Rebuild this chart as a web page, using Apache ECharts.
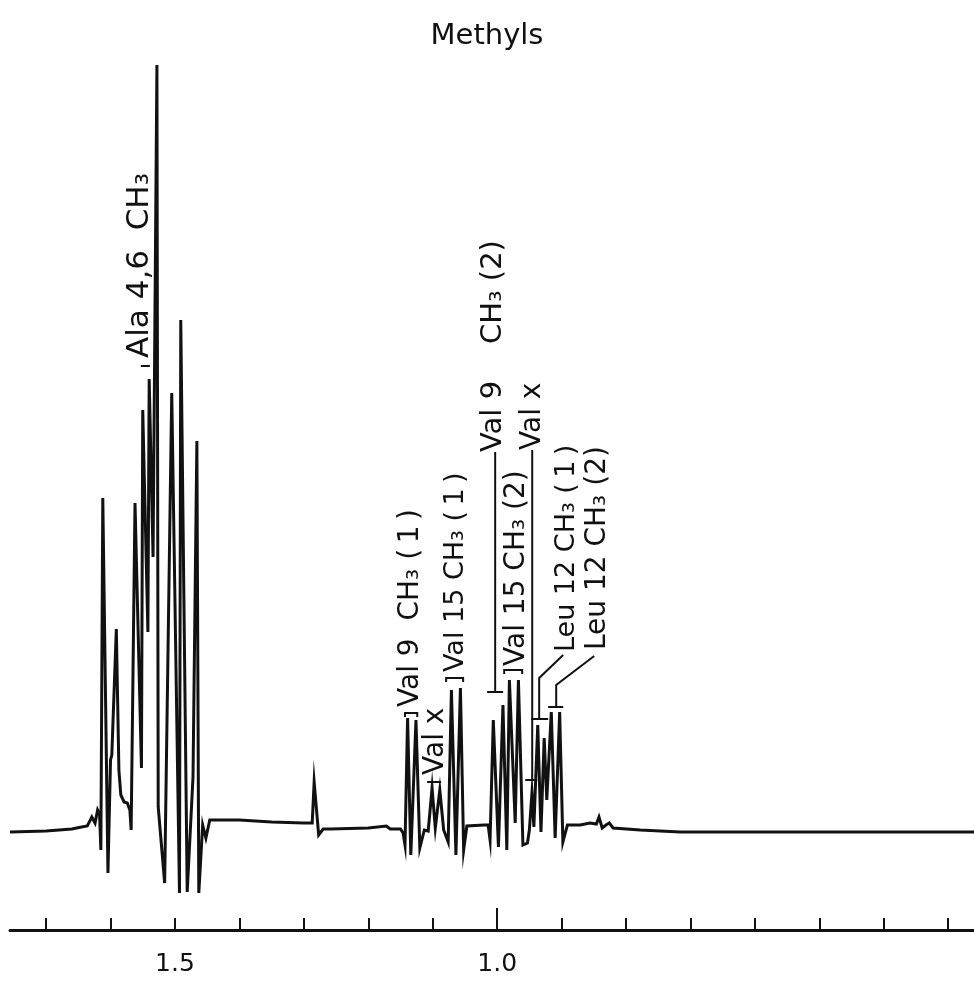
<!DOCTYPE html>
<html><head><meta charset="utf-8">
<script src="https://cdn.jsdelivr.net/npm/echarts@6/dist/echarts.min.js"></script>
<style>html,body{margin:0;padding:0;background:#fff}#c{width:974px;height:988px}</style>
</head><body><div id="c"></div>
<script>
// chemical shift (ppm) of each trace vertex
const shiftPpm = [1.756,1.700,1.660,1.645,1.636,1.629,1.624,1.620,1.617,1.615,1.612,1.604,1.600,1.598,1.591,1.587,1.584,1.579,1.574,1.570,1.568,1.562,1.552,1.550,1.542,1.540,1.534,1.528,1.526,1.516,1.505,1.493,1.491,1.481,1.472,1.466,1.463,1.457,1.452,1.446,1.400,1.350,1.300,1.287,1.284,1.277,1.270,1.259,1.200,1.172,1.166,1.150,1.146,1.143,1.139,1.134,1.126,1.120,1.113,1.107,1.101,1.096,1.089,1.083,1.076,1.071,1.064,1.057,1.052,1.047,1.020,1.014,1.011,1.006,0.998,0.991,0.985,0.981,0.972,0.967,0.960,0.953,0.950,0.946,0.943,0.937,0.932,0.927,0.923,0.916,0.910,0.903,0.898,0.891,0.871,0.856,0.846,0.842,0.837,0.831,0.826,0.820,0.778,0.716,0.530,0.260];
// signal intensity (arbitrary units) at each vertex
const intensity = [-2,-1,1,3,4,13,7,20,16,-20,332,-43,70,75,201,60,35,28,27,20,0,327,62,420,198,451,273,765,23,-53,437,-63,510,-62,53,389,-63,5,-8,10,10,8,7,7,48,-5,1,1,2,4,1,1,-3,-15,112,-25,110,-18,0,-1,42,2,40,0,-12,140,-25,142,-20,4,5,5,-10,110,-17,125,-20,150,7,150,-15,-13,0,37,3,105,-2,92,30,118,-8,118,-12,5,5,7,6,13,2,5,7,2,0,-2,-2,-2];

const tickValues = [0.3,0.4,0.5,0.6,0.7,0.8,0.9,1.0,1.1,1.2,1.3,1.4,1.5,1.6,1.7];
const tickLabelValues = [1.0, 1.5];
const majorTickValues = [1.0];

const titleText = 'Methyls';
// peak assignments: text, anchor shift, anchor intensity (start of rotated text)
const labelTexts = ['Ala 4,6  CH\u2083','Val 9  CH\u2083 (\u20091\u2009)','Val x','Val 15 CH\u2083 (\u20091\u2009)','Val 9    CH\u2083 (2)','Val 15 CH\u2083 (2)','Val x','Leu 12 CH\u2083 (\u20091\u2009)','Leu 12 CH\u2083 (2)'];
const labelPpm = [1.554,1.1335,1.0947,1.0637,1.0062,0.9689,0.9441,0.8913,0.8447];
const labelHeight = [472,123,55,158,378,164,380,178,180];
const labelSize = [31,28,28,27,29,28,28,27,28];
// brackets / leader lines in (ppm, intensity)
const leaderLines = [
  [[1.553,464],[1.539,464]],
  [[1.143,113],[1.143,117],[1.124,117],[1.124,113]],
  [[1.1087,48],[1.0870,48]],
  [[1.0792,148],[1.0792,152],[1.0528,152],[1.0528,148]],
  [[1.0155,138],[0.9907,138]],
  [[1.0031,138],[1.0031,378]],
  [[0.9891,156],[0.9891,160],[0.9612,160],[0.9612,156]],
  [[0.9565,50],[0.9379,50]],
  [[0.9456,50],[0.9456,380]],
  [[0.9472,111],[0.9208,111]],
  [[0.9348,111],[0.9348,152],[0.8975,175]],
  [[0.9208,123],[0.8975,123]],
  [[0.9084,123],[0.9084,145],[0.8494,174]]
];

const data = shiftPpm.map((p,i)=>[p,intensity[i]]);
const chart = echarts.init(document.getElementById('c'));
const axisY = 930;
chart.setOption({
  animation:false,
  backgroundColor:'#fff',
  title:{text:titleText,left:'center',top:17,textStyle:{fontFamily:'DejaVu Sans',fontSize:29,fontWeight:'normal',color:'#111'}},
  grid:{left:10,right:0,top:0,bottom:988-axisY},
  xAxis:[{
    type:'value',inverse:true,min:0.26,max:1.756,position:'bottom',
    axisLine:{show:true,onZero:false,lineStyle:{color:'#111',width:3}},
    axisTick:{show:true,inside:true,length:12,lineStyle:{color:'#111',width:2},customValues:tickValues},
    axisLabel:{show:true,customValues:tickLabelValues,formatter:v=>v.toFixed(1),margin:22,fontFamily:'DejaVu Sans',fontSize:25,color:'#111'},
    splitLine:{show:false}
  },{
    type:'value',inverse:true,min:0.26,max:1.756,position:'bottom',gridIndex:0,
    axisLine:{show:false,onZero:false},
    axisTick:{show:true,inside:true,length:22,lineStyle:{color:'#111',width:2},customValues:majorTickValues},
    axisLabel:{show:false},splitLine:{show:false}
  }],
  yAxis:{type:'value',min:-(axisY-830),max:830,show:false,splitLine:{show:false}},
  series:[{type:'line',data:data,xAxisIndex:0,showSymbol:false,symbol:'none',lineStyle:{color:'#111',width:3,join:'miter',miterLimit:20},z:3}]
});
const toPx = p => chart.convertToPixel({xAxisIndex:0,yAxisIndex:0}, p);
const g = [];
leaderLines.forEach(pts=>{
  g.push({type:'polyline',shape:{points:pts.map(toPx)},style:{stroke:'#111',lineWidth:2,fill:null},z:10});
});
labelTexts.forEach((t,i)=>{
  const [x,y] = toPx([labelPpm[i],labelHeight[i]]);
  g.push({type:'text',x:x,y:y,rotation:Math.PI/2,z:10,style:{text:t,fontFamily:'DejaVu Sans',fontSize:labelSize[i],fill:'#111',align:'left',verticalAlign:'middle',textAlign:'left',textVerticalAlign:'middle'}});
});
chart.setOption({graphic:{elements:g}});
</script></body></html>
